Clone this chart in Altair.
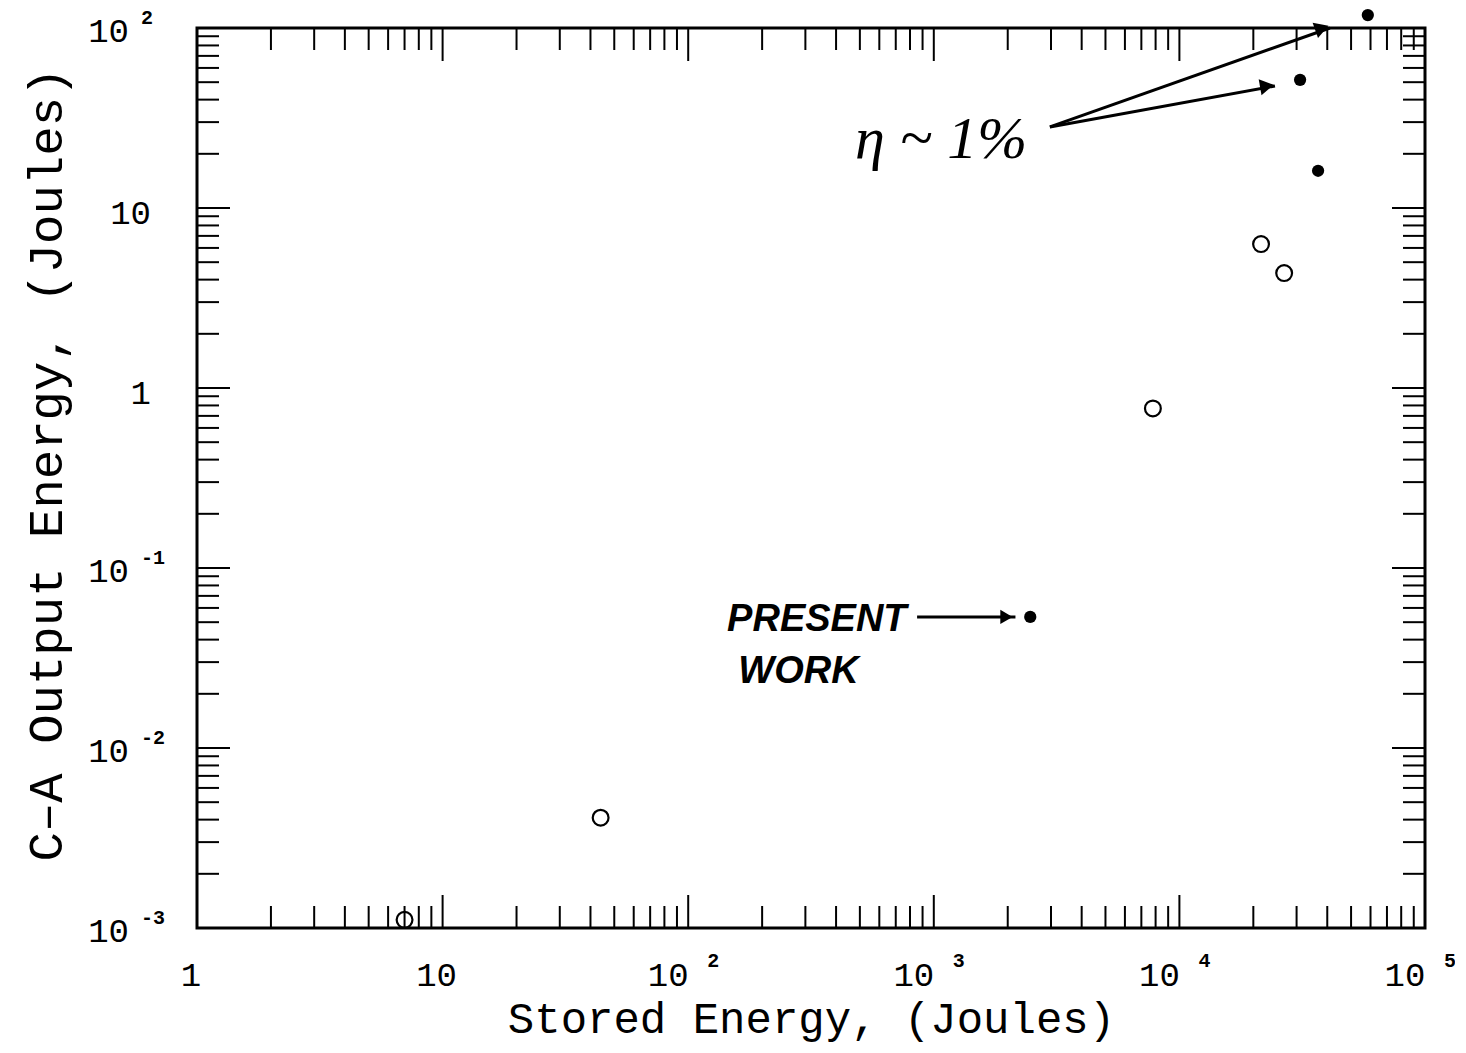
import altair as alt
import pandas as pd

W, H = 1228, 900

# ---- data ----
open_x = [7.0, 44.0, 7800.0, 21500.0, 26700.0]
open_y = [0.00111, 0.0041, 0.77, 6.3, 4.35]
filled_x = [2470.0, 31000.0, 36700.0, 58500.0]
filled_y = [0.0535, 51.5, 16.1, 118.0]

# tick values
x_major = [1, 10, 100, 1000, 10000, 100000]
x_minor = [k * 10 ** d for d in range(5) for k in range(2, 10)]
y_major = [0.001, 0.01, 0.1, 1, 10, 100]
y_minor = [k * 10.0 ** d for d in range(-3, 2) for k in range(2, 10)]

# tick labels
x_lab_vals = [1, 10, 100, 1000, 10000, 100000]
x_lab_base = ["1", "10", "10", "10", "10", "10"]
x_lab_exp = ["", "", "2", "3", "4", "5"]
y_lab_vals = [0.001, 0.01, 0.1, 1, 10, 100]
y_lab_base = ["10", "10", "10", "1", "10", "10"]
y_lab_exp = ["-3", "-2", "-1", "", "", "2"]

# annotations
eta_arrow_x1 = [2970.0, 2970.0]
eta_arrow_y1 = [28.2, 28.2]
eta_arrow_x2 = [24500.0, 41000.0]
eta_arrow_y2 = [47.6, 100.0]
eta_arrow_ang = [350, 340.5]
pres_arrow_x1 = [855.0]
pres_arrow_x2 = [2150.0]
pres_arrow_y = [0.0535]
texts = ["η ~ 1%", "PRESENT", "WORK"]
text_x = [478.0, 144.0, 160.0]
text_y = [23.9, 0.0514, 0.0264]

MONO = "Liberation Mono"

xs = alt.Scale(type="log", domain=[1, 1e5])
ys = alt.Scale(type="log", domain=[1e-3, 1e2])
xaxis = alt.Axis(title="Stored Energy, (Joules)", labels=False, ticks=False, domain=False,
                 grid=False, titleFont=MONO, titleFontSize=44, titleFontWeight="normal",
                 titleColor="black", titlePadding=69)
yaxis = alt.Axis(title="C\u2013A Output Energy, (Joules)", labels=False, ticks=False, domain=False,
                 grid=False, titleFont=MONO, titleFontSize=49, titleFontWeight="normal",
                 titleColor="black", titlePadding=126, titleY=436)


def X(f="x"):
    return alt.X(f"{f}:Q", scale=xs, axis=xaxis)


def Y(f="y"):
    return alt.Y(f"{f}:Q", scale=ys, axis=yaxis)


open_df = pd.DataFrame({"x": open_x, "y": open_y})
filled_df = pd.DataFrame({"x": filled_x, "y": filled_y})

open_pts = alt.Chart(open_df).mark_point(shape="circle", size=250, filled=False, color="black",
                                         strokeWidth=2.2, opacity=1).encode(x=X(), y=Y())
filled_pts = alt.Chart(filled_df).mark_point(shape="circle", size=150, filled=True, color="black",
                                             opacity=1).encode(x=X(), y=Y())

# ---- inward ticks ----
xt = pd.DataFrame({"x": x_major + x_minor, "major": [1] * len(x_major) + [0] * len(x_minor)})
yt = pd.DataFrame({"y": y_major + y_minor, "major": [1] * len(y_major) + [0] * len(y_minor)})
tick_layers = []
for maj, ln in [(1, 33), (0, 22)]:
    cx = alt.Chart(xt).transform_filter(alt.datum.major == maj)
    tick_layers.append(cx.mark_rule(color="black", strokeWidth=2).encode(
        x=X(), y=alt.value(H), y2=alt.value(H - ln)))
    tick_layers.append(cx.mark_rule(color="black", strokeWidth=2).encode(
        x=X(), y=alt.value(0), y2=alt.value(ln)))
    cy = alt.Chart(yt).transform_filter(alt.datum.major == maj)
    tick_layers.append(cy.mark_rule(color="black", strokeWidth=2).encode(
        y=Y(), x=alt.value(0), x2=alt.value(ln)))
    tick_layers.append(cy.mark_rule(color="black", strokeWidth=2).encode(
        y=Y(), x=alt.value(W), x2=alt.value(W - ln)))

# ---- tick labels ----
xl = pd.DataFrame({"x": x_lab_vals, "base": x_lab_base, "exp": x_lab_exp})
yl = pd.DataFrame({"y": y_lab_vals, "base": y_lab_base, "exp": y_lab_exp})
lab_layers = [
    alt.Chart(xl).transform_filter(alt.datum.exp == "").mark_text(
        font=MONO, fontSize=34, align="center", baseline="middle", dx=-6, color="black"
    ).encode(x=X(), y=alt.value(H + 48), text="base:N"),
    alt.Chart(xl).transform_filter(alt.datum.exp != "").mark_text(
        font=MONO, fontSize=34, align="center", baseline="middle", dx=-20, color="black"
    ).encode(x=X(), y=alt.value(H + 48), text="base:N"),
    alt.Chart(xl).transform_filter(alt.datum.exp != "").mark_text(
        font=MONO, fontSize=20, fontWeight="bold", align="center", baseline="middle", dx=25,
        color="black"
    ).encode(x=X(), y=alt.value(H + 33), text="exp:N"),
    alt.Chart(yl).transform_filter(alt.datum.exp == "").mark_text(
        font=MONO, fontSize=34, align="right", baseline="middle", dy=6, color="black"
    ).encode(y=Y(), x=alt.value(-46), text="base:N"),
    alt.Chart(yl).transform_filter(alt.datum.exp != "").mark_text(
        font=MONO, fontSize=34, align="right", baseline="middle", dy=4, color="black"
    ).encode(y=Y(), x=alt.value(-68), text="base:N"),
    alt.Chart(yl).transform_filter(alt.datum.exp != "").mark_text(
        font=MONO, fontSize=20, fontWeight="bold", align="left", baseline="middle", dy=-10,
        color="black"
    ).encode(y=Y(), x=alt.value(-56), text="exp:N"),
]

# ---- annotations ----
eta_df = pd.DataFrame({"x": eta_arrow_x1, "y": eta_arrow_y1, "x2": eta_arrow_x2,
                       "y2": eta_arrow_y2, "ang": eta_arrow_ang})
eta_lines = alt.Chart(eta_df).mark_rule(color="black", strokeWidth=3).encode(
    x=X(), y=Y(), x2="x2:Q", y2="y2:Q")
eta_heads = alt.Chart(eta_df).mark_point(shape="triangle-right", size=260, filled=True,
                                         color="black", opacity=1).encode(
    x=X("x2"), y=Y("y2"), angle=alt.Angle("ang:Q", scale=None), xOffset=alt.value(-8))

pres_df = pd.DataFrame({"x": pres_arrow_x1, "x2": pres_arrow_x2, "y": pres_arrow_y})
pres_line = alt.Chart(pres_df).mark_rule(color="black", strokeWidth=3).encode(
    x=X(), x2="x2:Q", y=Y())
pres_head = alt.Chart(pres_df).mark_point(shape="triangle-right", size=200, filled=True,
                                          color="black", opacity=1).encode(
    x=X("x2"), y=Y(), xOffset=alt.value(-9))

tdf = pd.DataFrame({"t": texts, "x": text_x, "y": text_y})
eta_text = alt.Chart(tdf).transform_filter(alt.datum.t == texts[0]).mark_text(
    font="Liberation Serif", fontStyle="italic", fontSize=60, align="left", baseline="middle",
    color="black").encode(x=X(), y=Y(), text="t:N")
pw_text = alt.Chart(tdf).transform_filter(alt.datum.t != texts[0]).mark_text(
    font="Liberation Sans", fontStyle="italic", fontWeight="bold", fontSize=38, align="left",
    baseline="middle", color="black").encode(x=X(), y=Y(), text="t:N")

chart = alt.layer(
    *tick_layers, *lab_layers, open_pts, filled_pts, eta_lines, eta_heads, pres_line, pres_head,
    eta_text, pw_text
).properties(
    width=W, height=H,
    padding={"left": 189, "top": 20, "right": 30, "bottom": 117},
    autosize=alt.AutoSizeParams(type="none"),
    background="white",
).configure_view(stroke="black", strokeWidth=3)

chart.save("out.html", embed_options={"renderer": "svg", "actions": False})
